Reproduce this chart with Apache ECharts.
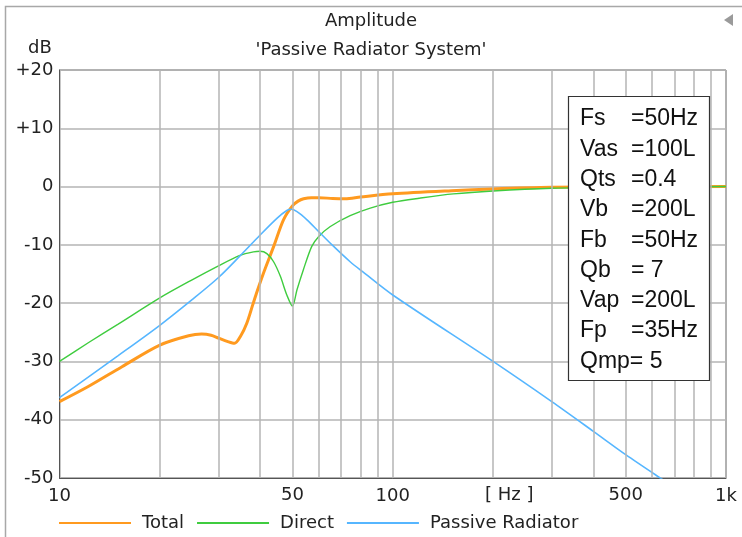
<!DOCTYPE html>
<html>
<head>
<meta charset="utf-8">
<script src="https://cdn.jsdelivr.net/npm/echarts@6/dist/echarts.min.js"></script>
<style>html,body{margin:0;padding:0;background:#fff;}#c{width:742px;height:537px;}</style>
</head>
<body>
<div id="c"></div>
<script>
// ---- data ----
const titleText = 'Amplitude';
const subTitleText = "'Passive Radiator System'";
const seriesNames = ['Total', 'Direct', 'Passive Radiator'];
const yTicks = [-50, -40, -30, -20, -10, 0, 10, 20];
const xMinorGrid = [20, 30, 40, 50, 60, 70, 80, 90, 200, 300, 400, 500, 600, 700, 800, 900];
const xExtraLabels = {50: '50', 500: '500'};
const paramLabels = ['Fs', 'Vas', 'Qts', 'Vb', 'Fb', 'Qb', 'Vap', 'Fp', 'Qmp= 5'];
const paramValues = ['=50Hz', '=100L', '=0.4', '=200L', '=50Hz', '= 7', '=200L', '=35Hz', ''];

const totalFreq = [10, 12.2, 15.4, 20, 24.4, 26.7, 28.5, 30, 32, 33.5, 35, 36.5, 38, 39, 40.9, 43.9, 47, 50, 52, 54, 57, 60, 66, 72, 80, 100, 150, 200, 300, 500, 1000];
const totalDb   = [-36.9, -34.3, -30.9, -27.2, -25.6, -25.3, -25.5, -26.0, -26.6, -26.9, -25.6, -23.4, -20.3, -18.3, -14.9, -10.3, -5.7, -3.3, -2.5, -2.1, -1.9, -1.9, -2.05, -2.1, -1.8, -1.25, -0.7, -0.4, -0.12, -0.03, 0];

const directFreq = [10, 12.2, 15, 20, 25, 30, 34.8, 38.2, 40, 41.9, 43.9, 46, 48.1, 50, 51.6, 53.9, 57.1, 59.9, 64.8, 74.5, 85.6, 100, 120, 152, 200, 300, 500, 1000];
const directDb   = [-30, -26.8, -23.6, -19.1, -16.0, -13.6, -11.8, -11.2, -11.1, -11.5, -12.9, -15.4, -18.6, -20.5, -17.7, -14.3, -10.3, -8.6, -6.9, -5.0, -3.7, -2.7, -2.0, -1.25, -0.75, -0.3, -0.1, 0];

const prFreq = [10, 15, 20, 25, 30, 34.8, 40, 45, 48.1, 49.5, 51.6, 55.3, 59.9, 66, 74.5, 81.2, 100, 200, 300, 400, 500, 631, 660];
const prDb   = [-36.2, -29.0, -23.8, -19.4, -15.6, -11.9, -8.3, -5.4, -4.1, -3.9, -4.3, -5.7, -7.7, -10.1, -12.9, -14.6, -18.6, -30.0, -36.9, -42.0, -46.0, -49.9, -50.6];

// ---- build ----
const pair = (xs, ys) => xs.map((x, i) => [x, ys[i]]);
const FONT = 'DejaVu Sans';
const FS = 18;
const GRID_COLOR = '#b4b4b4';
const colors = ['#ff9a1f', '#3fcc3f', '#56b6ff'];
const BOXFONT = '23px "Liberation Sans", Arial, sans-serif';

const chart = echarts.init(document.getElementById('c'), null, {renderer: 'canvas'});

const paramGraphics = [];
paramLabels.forEach((l, i) => {
  const y = 119 + i * 30.3;
  paramGraphics.push({type: 'text', z: 101, x: 580, y: y,
    style: {text: l, font: BOXFONT, fill: '#111', verticalAlign: 'middle'}});
  if (paramValues[i]) paramGraphics.push({type: 'text', z: 101, x: 631, y: y,
    style: {text: paramValues[i], font: BOXFONT, fill: '#111', verticalAlign: 'middle'}});
});

const option = {
  animation: false,
  backgroundColor: '#fff',
  textStyle: {fontFamily: FONT},
  title: [
    {text: titleText, left: 'center', top: 7, textStyle: {fontFamily: FONT, fontSize: FS, fontWeight: 'normal', color: '#222'}},
    {text: subTitleText, left: 'center', top: 36, textStyle: {fontFamily: FONT, fontSize: FS, fontWeight: 'normal', color: '#222'}}
  ],
  legend: {
    data: seriesNames,
    left: 53, top: 509,
    itemWidth: 72, itemHeight: 14, itemGap: 12,
    itemStyle: {opacity: 0},
    textStyle: {fontFamily: FONT, fontSize: FS, color: '#222', padding: [0, 0, 0, 6]}
  },
  grid: {left: 59.5, top: 70, right: 16, bottom: 59, show: true, borderColor: '#555', borderWidth: 1},
  xAxis: {
    type: 'log', logBase: 10, min: 10, max: 1000,
    axisLine: {show: true, onZero: false, lineStyle: {color: '#555'}},
    axisTick: {show: false},
    splitLine: {show: true, lineStyle: {color: GRID_COLOR, width: 1.5}},
    axisLabel: {fontFamily: FONT, fontSize: FS, color: '#222', margin: 9,
      formatter: v => v >= 1000 ? '1k' : String(v)}
  },
  yAxis: {
    type: 'value', min: -50, max: 20, interval: 10,
    axisLine: {show: true, lineStyle: {color: '#555'}},
    axisTick: {show: false},
    splitLine: {show: true, lineStyle: {color: GRID_COLOR, width: 1.5}},
    axisLabel: {fontFamily: FONT, fontSize: FS, color: '#222', margin: 6,
      formatter: v => v > 0 ? '+' + v : String(v)}
  },
  series: [
    {
      name: '_grid', type: 'line', data: [], silent: true,
      markLine: {
        silent: true, symbol: 'none', animation: false,
        lineStyle: {color: GRID_COLOR, width: 1.5, type: 'solid'},
        label: {show: true, position: 'start', distance: 8, fontFamily: FONT, fontSize: FS, color: '#222',
          formatter: p => xExtraLabels[p.value] || ''},
        emphasis: {disabled: true},
        data: xMinorGrid.map(v => ({xAxis: v}))
      }
    },
    {name: seriesNames[0], type: 'line', data: pair(totalFreq, totalDb), smooth: 0.3, symbol: 'none',
      lineStyle: {color: colors[0], width: 3}, itemStyle: {color: colors[0]}, z: 3},
    {name: seriesNames[1], type: 'line', data: pair(directFreq, directDb), smooth: 0.3, symbol: 'none',
      lineStyle: {color: colors[1], width: 1.4}, itemStyle: {color: colors[1]}, z: 4},
    {name: seriesNames[2], type: 'line', data: pair(prFreq, prDb), smooth: 0.3, symbol: 'none',
      lineStyle: {color: colors[2], width: 1.6}, itemStyle: {color: colors[2]}, z: 4}
  ],
  graphic: [
    {type: 'polyline', z: 50, shape: {points: [[5.5, 537], [5.5, 6.5], [742, 6.5]]}, style: {stroke: '#a8a8a8', lineWidth: 1.5, fill: null}},
    {type: 'polygon', z: 50, shape: {points: [[733, 14], [733, 26], [724, 20]]}, style: {fill: '#9a9a9a'}},
    {type: 'text', z: 50, x: 28, y: 48, style: {text: 'dB', font: FS + 'px "DejaVu Sans"', fill: '#222', verticalAlign: 'middle'}},
    {type: 'text', z: 50, x: 485, y: 495, style: {text: '[ Hz ]', font: FS + 'px "DejaVu Sans"', fill: '#222', verticalAlign: 'middle'}},
    {type: 'rect', z: 100, shape: {x: 568.5, y: 96.5, width: 141, height: 284}, style: {fill: '#fff', stroke: '#333', lineWidth: 1.2}}
  ].concat(paramGraphics)
};
chart.setOption(option);
</script>
</body>
</html>
